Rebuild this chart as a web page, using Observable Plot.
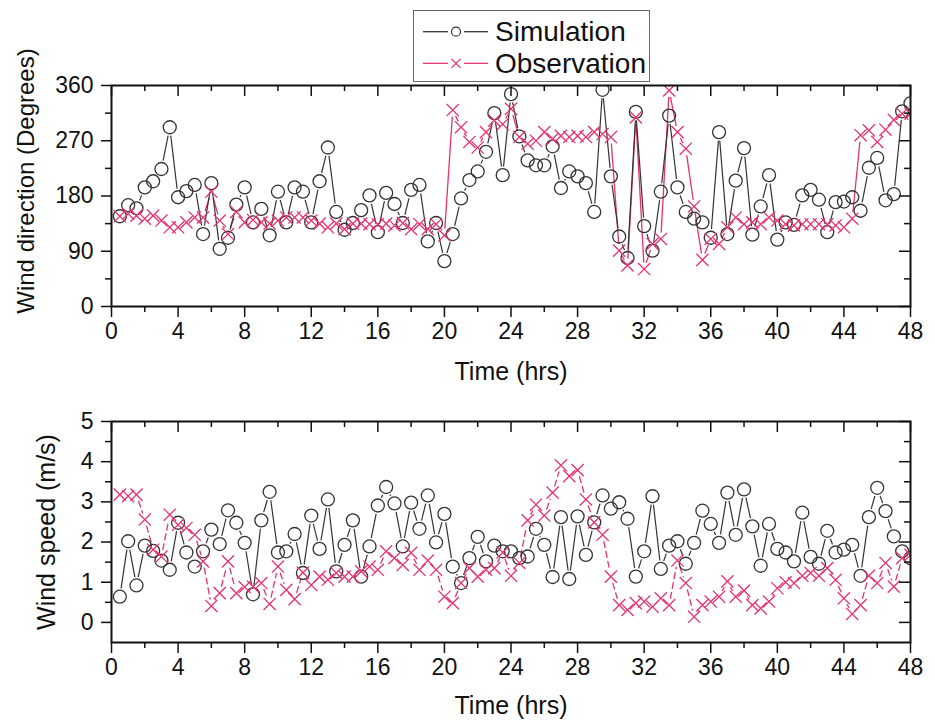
<!DOCTYPE html>
<html><head><meta charset="utf-8">
<script src="https://cdn.jsdelivr.net/npm/d3@7"></script>
<script src="https://cdn.jsdelivr.net/npm/@observablehq/plot@0.6"></script>
<style>
body{margin:0;background:#fff;font-family:"Liberation Sans",Arial,sans-serif}
#wrap{position:relative;width:935px;height:720px;overflow:hidden;background:#fff}
#top{position:absolute;left:0;top:0}
#bot{position:absolute;left:0;top:395px}
#legend{position:absolute;left:413px;top:10px;width:237px;height:72px;border:1px solid #666;background:#fff;box-sizing:border-box}
#legend svg{display:block}
</style></head><body>
<div id="wrap"><div id="top"></div><div id="bot"></div><div id="legend"></div></div>
<script>
// ---- data ----
const time = [0.5,1,1.5,2,2.5,3,3.5,4,4.5,5,5.5,6,6.5,7,7.5,8,8.5,9,9.5,10,10.5,11,11.5,12,
  12.5,13,13.5,14,14.5,15,15.5,16,16.5,17,17.5,18,18.5,19,19.5,20,20.5,21,21.5,22,22.5,23,23.5,24,
  24.5,25,25.5,26,26.5,27,27.5,28,28.5,29,29.5,30,30.5,31,31.5,32,32.5,33,33.5,34,34.5,35,35.5,36,
  36.5,37,37.5,38,38.5,39,39.5,40,40.5,41,41.5,42,42.5,43,43.5,44,44.5,45,45.5,46,46.5,47,47.5,48];

const simDir = [147,165,160,194,204,224,292,178,188,198,118,201,94,112,166,194,137,159,116,187,137,194,187,
  137,204,259,154,125,136,157,181,121,185,167,136,190,198,106,136,74,118,176,206,220,252,315,214,
  346,277,238,230,230,261,193,220,212,201,154,353,212,114,79,317,131,91,187,311,194,154,143,137,112,
  284,118,205,258,117,163,214,109,137,133,181,190,174,121,170,171,178,156,226,242,173,183,318,331];

const obsDir = [147,151,148,143,148,140,129,129,137,145,145,187,140,118,154,137,141,137,135,140,145,145,145,
  140,135,129,135,126,135,135,134,134,135,132,136,126,134,126,134,116,320,292,268,259,284,303,297,
  322,276,265,270,284,273,278,276,278,276,284,281,276,91,67,308,61,102,110,352,284,257,163,76,110,
  102,129,145,134,137,134,145,140,134,132,134,134,134,134,132,129,143,279,287,268,288,304,314,314];

const simSpeed = [0.64,2.02,0.92,1.91,1.78,1.54,1.31,2.48,1.74,1.39,1.77,2.31,1.95,2.79,2.48,1.98,0.70,2.54,3.25,1.74,1.77,2.2,1.23,
  2.66,1.83,3.06,1.27,1.93,2.54,1.14,1.89,2.91,3.37,2.96,1.89,2.98,2.33,3.16,1.99,2.7,1.39,0.98,1.6,2.13,1.52,1.91,1.77,
  1.77,1.6,1.64,2.33,1.93,1.13,2.62,1.08,2.64,1.68,2.49,3.16,2.83,2.99,2.58,1.14,1.77,3.14,1.33,1.91,2.02,1.46,1.98,2.78,2.45,
  1.98,3.23,2.18,3.31,2.39,1.41,2.45,1.83,1.74,1.52,2.73,1.63,1.46,2.28,1.74,1.81,1.93,1.16,2.62,3.35,2.77,2.14,1.77,1.6];

const obsSpeed = [3.18,3.14,3.18,2.56,1.81,1.64,2.68,2.43,2.35,2.18,1.52,0.41,0.73,1.52,0.73,0.88,0.89,0.98,0.46,1.39,0.81,0.58,1.24,
  0.93,1.14,1.06,1.23,1.14,1.14,1.27,1.39,1.31,1.77,1.6,1.43,1.73,1.31,1.54,1.31,0.64,0.48,0.98,1.35,1.14,1.31,1.35,1.74,
  1.16,1.48,2.54,2.93,2.66,3.23,3.91,3.64,3.79,3.06,2.49,2.18,1.14,0.43,0.31,0.48,0.52,0.39,0.6,0.43,1.54,0.98,0.14,0.43,0.52,
  0.64,1.02,0.64,0.79,0.43,0.35,0.52,0.85,1.0,0.98,1.16,1.23,1.16,1.35,1.06,0.6,0.21,0.43,1.16,0.98,1.48,0.89,1.6,1.68];

const xMajor = [0,4,8,12,16,20,24,28,32,36,40,44,48];
const xMinor = [2,6,10,14,18,22,26,30,34,38,42,46];
const dirMajor = [0,90,180,270,360];
const dirMinor = [45,135,225,315];
const spdMajor = [0,1,2,3,4,5];
const spdMinor = [-0.5,0.5,1.5,2.5,3.5,4.5];

const seriesNames = ["Simulation", "Observation"];
const PINK = "#e8316d";
const INK = "#333";
const FONT = '"Liberation Sans", Arial, sans-serif';
const W = 935, ML = 111, MR = 25;

// segments between consecutive points, shortened so that they stop short of the markers
function trimmed(ts, vs, kx, ky, gap) {
  const segs = [];
  for (let i = 0; i < ts.length - 1; i++) {
    const dx = (ts[i+1] - ts[i]) * kx, dy = (vs[i+1] - vs[i]) * ky;
    const L = Math.hypot(dx, dy);
    if (L <= 2 * gap + 1) continue;
    const f = gap / L;
    segs.push({
      x1: ts[i] + (ts[i+1] - ts[i]) * f, y1: vs[i] + (vs[i+1] - vs[i]) * f,
      x2: ts[i+1] - (ts[i+1] - ts[i]) * f, y2: vs[i+1] - (vs[i+1] - vs[i]) * f
    });
  }
  return segs;
}

function panel({height, mt, mb, yDomain, yMajor, yMinor, sim, obs, ylabel, ylabelDx, ylabelDy, ylabelSize, titleDy, obsDash}) {
  const pw = W - ML - MR, ph = height - mt - mb;
  const kx = pw / 48, ky = ph / (yDomain[1] - yDomain[0]);
  const simData = time.map((t, i) => ({t, v: sim[i]}));
  const obsData = time.map((t, i) => ({t, v: obs[i]}));
  return Plot.plot({
    width: W, height, marginLeft: ML, marginRight: MR, marginTop: mt, marginBottom: mb,
    style: {fontFamily: FONT, color: "#111", background: "transparent", overflow: "visible"},
    x: {domain: [0, 48], label: null},
    y: {domain: yDomain, label: null},
    marks: [
      Plot.link(trimmed(time, obs, kx, ky, 6.5), {x1: "x1", y1: "y1", x2: "x2", y2: "y2", stroke: PINK, strokeWidth: 1.3, strokeDasharray: obsDash, clip: true}),
      Plot.link(trimmed(time, sim, kx, ky, 8.5), {x1: "x1", y1: "y1", x2: "x2", y2: "y2", stroke: INK, strokeWidth: 1.2, clip: true}),
      Plot.dot(simData, {x: "t", y: "v", r: 6.5, stroke: INK, strokeWidth: 1.3, fill: "none", clip: true}),
      Plot.dot(obsData, {x: "t", y: "v", symbol: "times", r: 5.6, stroke: PINK, strokeWidth: 1.3, clip: true}),
      Plot.frame({stroke: "#111", strokeWidth: 2}),
      Plot.axisY(yMajor, {anchor: "left", tickSize: 10, tickPadding: 8, fontSize: 23, strokeWidth: 1.5, label: null}),
      Plot.axisY(yMinor.filter(d => d > yDomain[0]), {anchor: "left", tickSize: 6, tickFormat: () => "", strokeWidth: 1.5, label: null}),
      Plot.axisX(xMajor, {anchor: "bottom", tickSize: 11, tickPadding: 5, fontSize: 23, strokeWidth: 1.5, label: null}),
      Plot.axisX(xMinor, {anchor: "bottom", tickSize: 6, tickFormat: () => "", strokeWidth: 1.5, label: null}),
      Plot.tickX(xMajor, {x: d => d, insetBottom: ph - 11, stroke: "#111", strokeWidth: 1.5}),
      Plot.tickX(xMinor, {x: d => d, insetBottom: ph - 6, stroke: "#111", strokeWidth: 1.5}),
      Plot.tickY(yMajor, {y: d => d, insetLeft: pw - 11, stroke: "#111", strokeWidth: 1.5}),
      Plot.tickY(yMinor.filter(d => d > yDomain[0]), {y: d => d, insetLeft: pw - 6, stroke: "#111", strokeWidth: 1.5}),
      Plot.text(["Time (hrs)"], {text: d => d, frameAnchor: "bottom", textAnchor: "middle", lineAnchor: "middle", dy: titleDy, fontSize: 25, fill: "#111"}),
      Plot.text([ylabel], {text: d => d, frameAnchor: "left", textAnchor: "middle", lineAnchor: "middle", rotate: -90, dx: ylabelDx, dy: ylabelDy, fontSize: ylabelSize, fill: "#111"})
    ]
  });
}

document.getElementById("top").appendChild(panel({
  height: 395, mt: 85, mb: 89, yDomain: [0, 360], yMajor: dirMajor, yMinor: dirMinor,
  sim: simDir, obs: obsDir, ylabel: "Wind direction (Degrees)", ylabelDx: -85, ylabelDy: -15, ylabelSize: 24,
  titleDy: 65, obsDash: null
}));

document.getElementById("bot").appendChild(panel({
  height: 325, mt: 26, mb: 78, yDomain: [-0.5, 5], yMajor: spdMajor, yMinor: spdMinor,
  sim: simSpeed, obs: obsSpeed, ylabel: "Wind speed (m/s)", ylabelDx: -65, ylabelDy: 0, ylabelSize: 25,
  titleDy: 63, obsDash: "7,3"
}));

// legend
(function () {
  const ns = "http://www.w3.org/2000/svg";
  const svg = document.createElementNS(ns, "svg");
  svg.setAttribute("width", 235); svg.setAttribute("height", 70);
  const rows = [{y: 20.7, color: INK, sym: "circle"}, {y: 52.3, color: PINK, sym: "times"}];
  rows.forEach((r, i) => {
    const add = (tag, attrs) => { const e = document.createElementNS(ns, tag); for (const k in attrs) e.setAttribute(k, attrs[k]); svg.appendChild(e); return e; };
    add("line", {x1: 9, x2: 34, y1: r.y, y2: r.y, stroke: r.color, "stroke-width": 1.3});
    add("line", {x1: 50, x2: 74, y1: r.y, y2: r.y, stroke: r.color, "stroke-width": 1.3});
    if (r.sym === "circle") add("circle", {cx: 42, cy: r.y, r: 4.5, fill: "none", stroke: r.color, "stroke-width": 1.2});
    else {
      add("line", {x1: 37.5, x2: 46.5, y1: r.y - 4.5, y2: r.y + 4.5, stroke: r.color, "stroke-width": 1.2});
      add("line", {x1: 37.5, x2: 46.5, y1: r.y + 4.5, y2: r.y - 4.5, stroke: r.color, "stroke-width": 1.2});
    }
    const t = add("text", {x: 81, y: r.y, "dominant-baseline": "central", "font-size": 28, "font-family": FONT, fill: "#111"});
    t.textContent = seriesNames[i];
  });
  document.getElementById("legend").appendChild(svg);
})();
</script>
</body></html>
